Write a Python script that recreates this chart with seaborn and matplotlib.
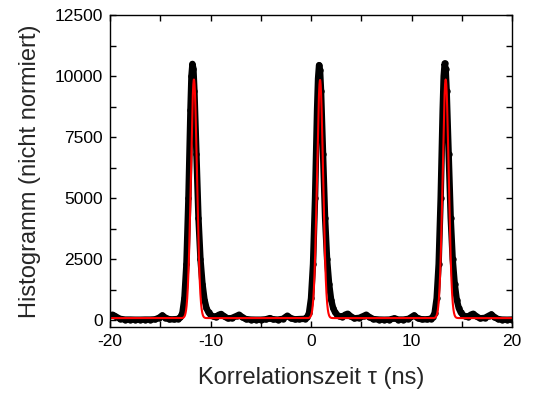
import numpy as np
import pandas as pd
import matplotlib
matplotlib.use("Agg")
import matplotlib.pyplot as plt
import seaborn as sns

# Measured coincidence histogram (time delay in ns, counts)
tau_ns = [
    -20.0, -19.75, -19.5, -19.0, -18.5, -18.0, -17.5, -17.0, -16.5, -16.0,
    -15.5, -15.1, -14.8, -14.5, -14.1, -13.6,
    -13.2, -13.0, -12.8, -12.6, -12.4, -12.2, -12.0, -11.9, -11.8, -11.7,
    -11.6, -11.4, -11.2, -11.0, -10.8, -10.6, -10.4, -10.2, -10.0, -9.8,
    -9.5, -9.2, -8.95, -8.7, -8.3, -7.9, -7.4, -7.15, -6.9, -6.5,
    -6.0, -5.5, -5.0, -4.5, -4.1, -3.8, -3.3, -2.8, -2.35, -2.0,
    -1.6, -1.2,
    -0.6, -0.4, -0.2, 0.0, 0.2, 0.4, 0.6, 0.7, 0.8, 0.9,
    1.0, 1.2, 1.4, 1.6, 1.8, 2.0, 2.2, 2.4, 2.6, 2.8,
    3.1, 3.4, 3.65, 3.9, 4.3, 4.8, 5.25, 5.5, 5.75, 6.2,
    6.8, 7.3, 7.8, 8.3, 8.7, 9.2, 9.7, 10.25, 10.6, 11.0,
    11.5,
    11.9, 12.1, 12.3, 12.5, 12.7, 12.9, 13.1, 13.2, 13.3, 13.4,
    13.5, 13.7, 13.9, 14.1, 14.3, 14.5, 14.7, 14.9, 15.1, 15.3,
    15.6, 15.9, 16.15, 16.4, 16.8, 17.3, 17.7, 17.95, 18.2, 18.6,
    19.0, 19.5, 20.0,
]
counts = [
    200, 230, 170, 60, 30, 30, 25, 25, 30, 30,
    40, 110, 200, 110, 40, 40,
    60, 120, 300, 900, 2300, 5000, 8600, 10000, 10500, 10300,
    9400, 6800, 4200, 2500, 1500, 850, 500, 320, 220, 170,
    130, 220, 260, 180, 80, 90, 180, 230, 150, 50,
    30, 25, 25, 40, 90, 40, 30, 60, 190, 80,
    40, 50,
    60, 120, 300, 900, 2300, 5000, 8600, 9900, 10450, 10250,
    9400, 6800, 4200, 2500, 1500, 850, 500, 320, 220, 170,
    140, 230, 270, 180, 80, 100, 180, 230, 150, 50,
    30, 25, 30, 80, 30, 30, 60, 200, 90, 40,
    40,
    60, 120, 300, 900, 2300, 5000, 8600, 10000, 10520, 10300,
    9400, 6800, 4200, 2500, 1500, 850, 500, 320, 220, 170,
    140, 230, 270, 180, 80, 100, 190, 240, 150, 50,
    30, 25, 30,
]

# Gaussian fit parameters (offset + three peaks)
fit_offset = 90
fit_centers = [-11.65, 0.9, 13.4]
fit_amplitudes = [9770, 9750, 9770]
fit_sigmas = [0.30, 0.30, 0.30]

x_ticks = [-20, -10, 0, 10, 20]
y_ticks = [0, 2500, 5000, 7500, 10000, 12500]

data = pd.DataFrame({"tau": tau_ns, "counts": counts})
tau_fit = np.linspace(-20, 20, 4001)
fit_curve = np.full_like(tau_fit, fit_offset, dtype=float)
for c, a, s in zip(fit_centers, fit_amplitudes, fit_sigmas):
    fit_curve += a * np.exp(-0.5 * ((tau_fit - c) / s) ** 2)
fit = pd.DataFrame({"tau": tau_fit, "counts": fit_curve})

sns.set_theme(style="ticks")
plt.rcParams["font.family"] = ["Liberation Sans", "DejaVu Sans"]
plt.rcParams["axes.unicode_minus"] = False

fig = plt.figure(figsize=(5.49, 3.96), dpi=100)
ax = fig.add_axes([0.2004, 0.1742, 0.7322, 0.7878])

sns.lineplot(data=data, x="tau", y="counts", ax=ax, color="black",
             linewidth=4.6, marker="o", markersize=4.6,
             markeredgewidth=0, estimator=None, sort=False)
sns.lineplot(data=fit, x="tau", y="counts", ax=ax, color="#ff0000",
             linewidth=1.5, estimator=None, sort=False)

ax.set_xlim(-20, 20)
ax.set_ylim(-275, 12500)
ax.set_xticks(x_ticks)
ax.set_yticks(y_ticks)
ax.set_xticks([-15, -5, 5, 15], minor=True)
ax.set_yticks([1250, 3750, 6250, 8750, 11250], minor=True)

ax.tick_params(which="both", direction="in", top=True, right=True,
               colors="black", labelsize=12.5, width=1.0)
ax.tick_params(which="major", length=4)
ax.tick_params(which="minor", length=4)
ax.tick_params(axis="y", pad=5)
ax.tick_params(axis="x", pad=5)
for sp in ax.spines.values():
    sp.set_linewidth(1.0)
    sp.set_color("black")

ax.set_xlabel("Korrelationszeit τ (ns)", fontsize=17, labelpad=13)
ax.set_ylabel("Histogramm (nicht normiert)", fontsize=17, labelpad=10)

fig.savefig("out.png", dpi=100)
